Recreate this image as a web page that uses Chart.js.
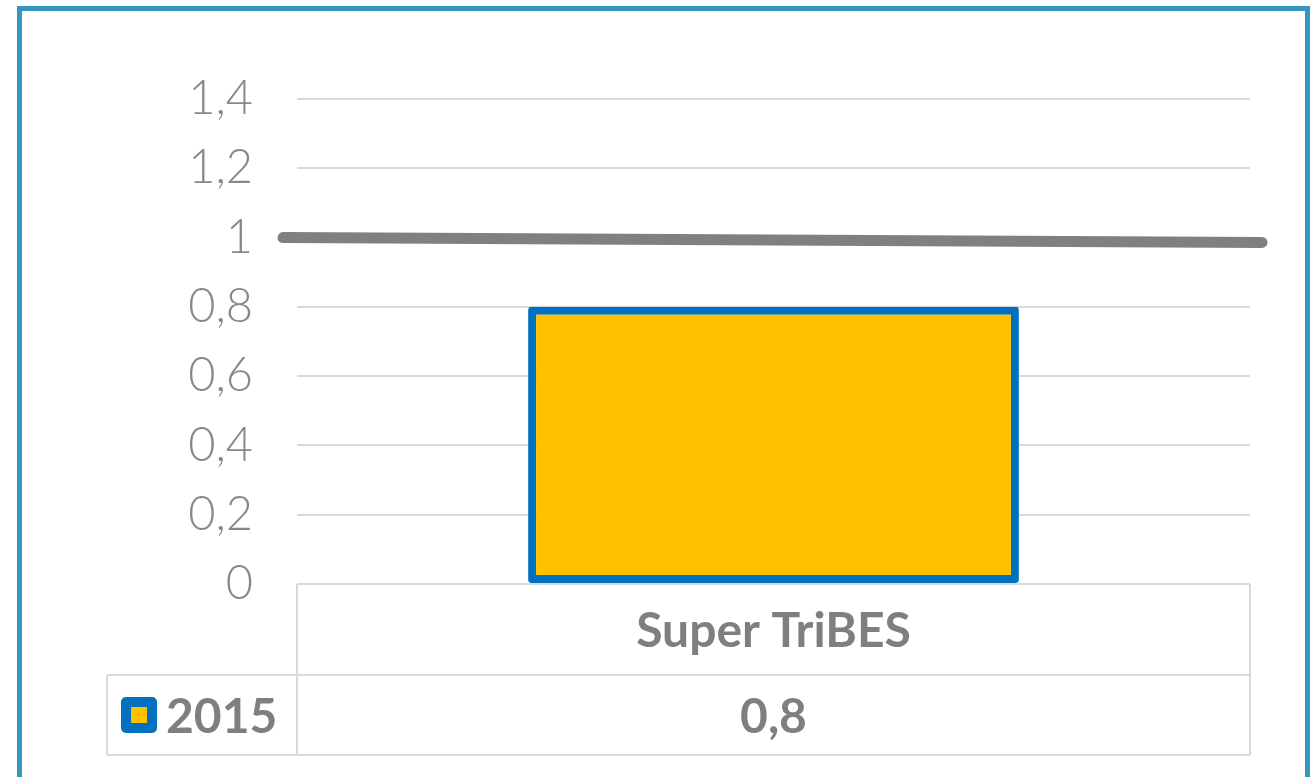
<!DOCTYPE html>
<html>
<head>
<meta charset="utf-8">
<title>Super TriBES 2015</title>
<script src="https://cdn.jsdelivr.net/npm/chart.js@4/dist/chart.umd.min.js"></script>
<style>
  html, body { margin: 0; padding: 0; background: #fff; overflow: hidden; }
  #wrap { position: relative; width: 1312px; height: 777px; }
  #frame {
    position: absolute; left: 17px; top: 6px; width: 1283px; height: 800px;
    border: 5px solid #3597bf; pointer-events: none;
  }
</style>
</head>
<body>
<div id="wrap">
  <canvas id="myChart" width="1312" height="777"></canvas>
  <div id="frame"></div>
</div>
<script>
// chart data
const categories = ["Super TriBES"];
const seriesName = "2015";
const values2015 = [0.8];
const refLine = [1.0, 0.986]; // grey target line, left end / right end
const yTicks = [0, 0.2, 0.4, 0.6, 0.8, 1, 1.2, 1.4];

const GREY_TEXT = "#7f7f7f";
const TABLE_LINE = "#d9d9d9";

function fmt(v) {
  return Number(v.toFixed(1)).toString().replace(".", ",");
}

// thick grey line at the target value, drawn a bit past the plot edges
const refLinePlugin = {
  id: "refLine",
  afterDatasetsDraw(chart) {
    const { ctx, chartArea, scales } = chart;
    const y = scales.y;
    ctx.save();
    ctx.strokeStyle = "#808080";
    ctx.lineWidth = 11;
    ctx.lineCap = "round";
    ctx.beginPath();
    ctx.moveTo(chartArea.left - 14, y.getPixelForValue(refLine[0]));
    ctx.lineTo(chartArea.right + 12, y.getPixelForValue(refLine[refLine.length - 1]));
    ctx.stroke();
    ctx.restore();
  },
};

// data table under the plot (category row + series row with legend key)
const dataTablePlugin = {
  id: "dataTable",
  afterDraw(chart) {
    const { ctx, chartArea, scales } = chart;
    const x = scales.x;
    const top = chartArea.bottom;
    const mid = top + 91;
    const bottom = mid + 80;
    const keyLeft = chartArea.left - 190;
    const catW = (chartArea.right - chartArea.left) / categories.length;

    ctx.save();
    ctx.strokeStyle = TABLE_LINE;
    ctx.lineWidth = 2;
    ctx.beginPath();
    // horizontal lines
    ctx.moveTo(keyLeft, mid); ctx.lineTo(chartArea.right, mid);
    ctx.moveTo(keyLeft, bottom); ctx.lineTo(chartArea.right, bottom);
    // verticals
    ctx.moveTo(keyLeft, mid); ctx.lineTo(keyLeft, bottom);
    ctx.moveTo(chartArea.left, top); ctx.lineTo(chartArea.left, bottom);
    categories.forEach((c, i) => {
      const r = x.getPixelForValue(i) + catW / 2;
      ctx.moveTo(r, top); ctx.lineTo(r, bottom);
    });
    ctx.stroke();

    // text
    ctx.fillStyle = GREY_TEXT;
    ctx.font = "bold 48px Lato";
    ctx.textAlign = "center";
    ctx.textBaseline = "alphabetic";
    categories.forEach((c, i) => {
      const cx = x.getPixelForValue(i);
      ctx.fillText(c, cx, top + 63);
      ctx.fillText(fmt(values2015[i]), cx, bottom - 22);
    });

    // legend key
    const kx = keyLeft + 14, ky = mid + 22, ks = 36;
    ctx.fillStyle = "#0070c0";
    ctx.beginPath();
    ctx.roundRect(kx, ky, ks, ks, 5);
    ctx.fill();
    ctx.fillStyle = "#ffc000";
    ctx.fillRect(kx + 10, ky + 10, ks - 20, ks - 20);

    ctx.fillStyle = GREY_TEXT;
    ctx.textAlign = "left";
    ctx.fillText(seriesName, kx + ks + 9, bottom - 22);
    ctx.restore();
  },
};

document.addEventListener("DOMContentLoaded", () => {
  const ctx = document.getElementById("myChart").getContext("2d");

  new Chart(ctx, {
    type: "bar",
    data: {
      labels: categories,
      datasets: [
        {
          label: seriesName,
          data: values2015,
          backgroundColor: "#ffc000",
          borderColor: "#0070c0",
          borderWidth: 8,
          borderSkipped: false,
          borderRadius: 3,
          barPercentage: 0.515,
          categoryPercentage: 1,
        },
      ],
    },
    options: {
      responsive: false,
      animation: false,
      devicePixelRatio: 1,
      layout: {
        padding: { top: 99, right: 62, bottom: 193, left: 0 },
      },
      plugins: {
        legend: { display: false },
        tooltip: { enabled: false },
        title: { display: false },
      },
      scales: {
        x: {
          display: false,
        },
        y: {
          min: 0,
          max: 1.4,
          afterBuildTicks(scale) {
            scale.ticks = yTicks.map((v) => ({ value: v }));
          },
          afterFit(scale) {
            scale.width = 297;
          },
          grid: {
            color: TABLE_LINE,
            lineWidth: 2,
            drawTicks: false,
          },
          border: { display: false },
          ticks: {
            padding: 44,
            color: "#888888",
            font: { family: "Lato", size: 47, weight: 300 },
            callback: (v) => fmt(v),
          },
        },
      },
    },
    plugins: [refLinePlugin, dataTablePlugin],
  });
});
</script>
</body>
</html>
